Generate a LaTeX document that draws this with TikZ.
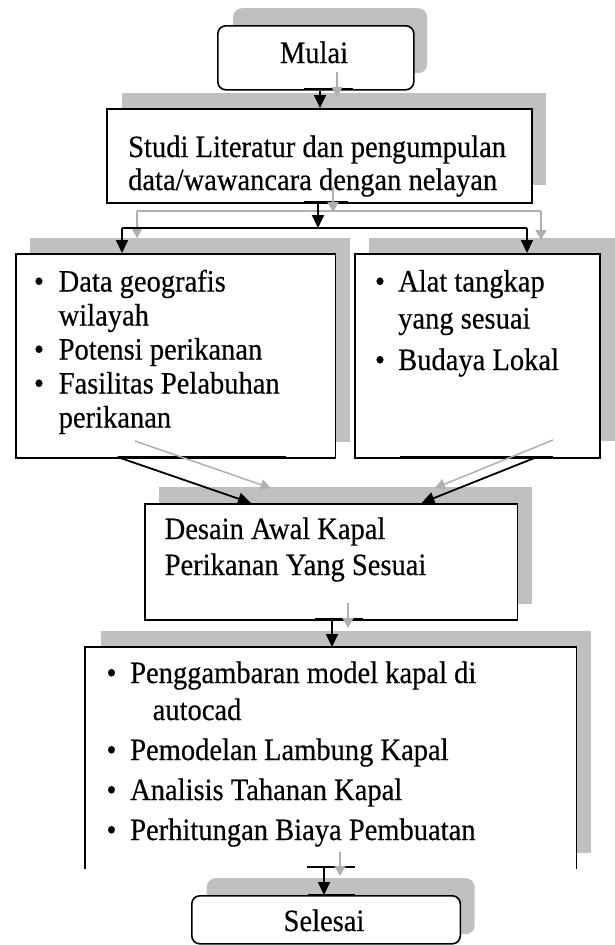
\documentclass[tikz,border=0pt]{standalone}
\usepackage{fontspec}
\setmainfont{Liberation Serif}[FakeBold=0.35,FakeStretch=0.92]
\usetikzlibrary{arrows.meta}
\definecolor{shc}{RGB}{192,192,192}
\definecolor{gac}{RGB}{175,175,175}
\begin{document}
\begin{tikzpicture}[x=1pt,y=-1pt,
  box/.style={draw=black,line width=1.6pt,fill=white,inner sep=0pt,anchor=north west},
  shadowbox/.style={fill=shc,draw=none,inner sep=0pt,anchor=north west},
  blk/.style={line width=1.8pt,-{Triangle[length=13pt,width=12pt]}},
  gry/.style={draw=gac,line width=1.5pt,-{Triangle[length=10pt,width=11pt]}},
  tickline/.style={line width=2.6pt},
  txt/.style={anchor=base west,inner sep=0pt,font=\fontsize{31}{36}\selectfont},
  bul/.style={anchor=base,inner sep=0pt,font=\fontsize{31}{36}\selectfont},
  ]
\useasboundingbox[fill=white] (0,0) rectangle (614,945);

% shadows
\node[shadowbox,rounded corners=9pt,minimum width=194pt,minimum height=65pt] (mulaish) at (233,8) {};
\node[shadowbox,minimum width=424pt,minimum height=92pt] (studish) at (122,93) {};
\node[shadowbox,minimum width=320.5pt,minimum height=204pt] (leftsh) at (29.5,238) {};
\node[shadowbox,minimum width=246pt,minimum height=203pt] (rightsh) at (368.5,238) {};
\node[shadowbox,minimum width=373pt,minimum height=117pt] (desainsh) at (159,487) {};
\node[shadowbox,minimum width=490pt,minimum height=222.5pt] (prosessh) at (101,630.5) {};
\node[shadowbox,rounded corners=9pt,minimum width=268pt,minimum height=56pt] (selesaish) at (206.5,878) {};

% boxes
\node[box,rounded corners=8pt,minimum width=196pt,minimum height=64pt] (mulai) at (217,25) {};
\node[box,minimum width=425pt,minimum height=94pt] (studi) at (106,108) {};
\node[box,minimum width=319.5pt,minimum height=204pt] (left) at (15,253) {};
\node[box,minimum width=245pt,minimum height=204pt] (right) at (354,253) {};
\node[box,minimum width=372.5pt,minimum height=116pt] (desain) at (144,503) {};
\node[box,draw=none,minimum width=490pt,minimum height=220pt] (proses) at (85,647) {};
\draw[line width=1.6pt] (proses.south west) -- (proses.north west) -- (proses.north east) -- (proses.south east);
\node[box,rounded corners=8pt,minimum width=268.5pt,minimum height=48pt] (selesai) at (191,895) {};

% texts
\node[anchor=base,inner sep=0pt,font=\fontsize{31}{36}\selectfont] (tmulai) at (314,63) {Mulai};
\node[txt] (ts1) at (128,157) {Studi Literatur dan pengumpulan};
\node[txt] (ts2) at (128,190) {data/wawancara dengan nelayan};

\node[bul] (bl1) at (39,291.5) {•};
\node[txt] (tl1) at (58.5,291.5) {Data geografis};
\node[txt] (tl2) at (58.5,325.5) {wilayah};
\node[bul] (bl2) at (39,359.5) {•};
\node[txt] (tl3) at (58.5,359.5) {Potensi perikanan};
\node[bul] (bl3) at (39,393.5) {•};
\node[txt] (tl4) at (58.5,393.5) {Fasilitas Pelabuhan};
\node[txt] (tl5) at (58.5,427.5) {perikanan};

\node[bul] (br1) at (380,291.5) {•};
\node[txt] (tr1) at (398,291.5) {Alat tangkap};
\node[txt] (tr2) at (398,328.5) {yang sesuai};
\node[bul] (br2) at (380,370) {•};
\node[txt] (tr3) at (398,370) {Budaya Lokal};

\node[txt] (td1) at (164.5,539) {Desain Awal Kapal};
\node[txt] (td2) at (164.5,575) {Perikanan Yang Sesuai};

\node[bul] (bp1) at (111.5,683) {•};
\node[txt] (tp1) at (130,683) {Penggambaran model kapal di};
\node[txt] (tp2) at (152.5,720) {autocad};
\node[bul] (bp2) at (111.5,760) {•};
\node[txt] (tp3) at (130,760) {Pemodelan Lambung Kapal};
\node[bul] (bp3) at (111.5,800) {•};
\node[txt] (tp4) at (130,800) {Analisis Tahanan Kapal};
\node[bul] (bp4) at (111.5,840) {•};
\node[txt] (tp5) at (130,840) {Perhitungan Biaya Pembuatan};

\node[anchor=base,inner sep=0pt,font=\fontsize{31}{36}\selectfont] (tselesai) at (324,931) {Selesai};

% heavy ticks on borders
\draw[tickline] (304,89) -- (353,89);
\draw[tickline] (304,202) -- (348,202);
\draw[tickline] (117.5,457) -- (286,457);
\draw[tickline] (400,457) -- (553,457);
\draw[tickline] (315,619) -- (363,619);
\draw[tickline] (307,867) -- (355,867);
\draw[tickline] (308,895) -- (355,895);

% named connector points
\coordinate (jl) at (122,228);
\coordinate (jr) at (527,228);
\coordinate (gjl) at (137,211);
\coordinate (gjr) at (541,211);

% gray ghost arrows
\draw[gry] (337,72) -- (337,97);
\draw[gry] (333,187) -- (333,212);
\draw[draw=gac,line width=1.5pt] (gjl) -- (gjr);
\draw[gry] (gjl) -- (137,238);
\draw[gry] (gjr) -- (541,240);
\draw[gry] (135,441) -- (270.5,488);
\draw[gry] (553,440) -- (435,488);
\draw[gry] (348,603) -- (348,628);
\draw[gry] (340,852) -- (340,876);

% black arrows
\draw[blk] (mulai.south -| 320,0) -- (studi.north -| 320,0);
\draw[blk] (studi.south -| 318,0) -- (318,228);
\draw[line width=1.8pt] (jl) -- (jr);
\draw[blk] (jl) -- (left.north -| jl);
\draw[blk] (jr) -- (right.north -| jr);
\draw[blk] (117.5,457) -- (251,503);
\draw[blk] (537,457) -- (421.5,503);
\draw[blk] (desain.south -| 332,0) -- (proses.north -| 332,0);
\draw[blk] (324,867) -- (selesai.north -| 324,0);
\end{tikzpicture}
\end{document}
